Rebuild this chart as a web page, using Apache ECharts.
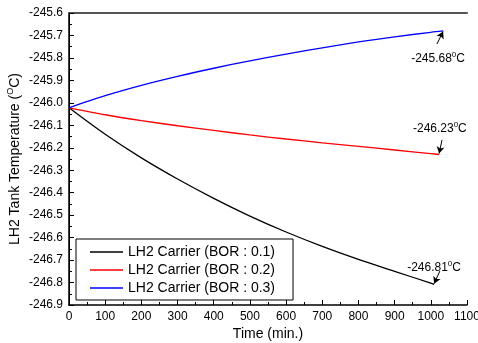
<!DOCTYPE html>
<html><head><meta charset="utf-8">
<script src="https://cdn.jsdelivr.net/npm/echarts@6/dist/echarts.min.js"></script>
<style>html,body{margin:0;padding:0;background:#fff}#c{width:478px;height:343px}</style>
</head><body><div id="c"></div>
<script>
// Time (min.)
const timesBlack = [0,100,200,300,400,500,600,700,800,900,1000,1009];
const tempBlack  = [-246.022,-246.140,-246.245,-246.339,-246.425,-246.504,-246.575,-246.639,-246.697,-246.750,-246.803,-246.808];
const timesRed   = [0,100,200,300,400,500,600,700,800,900,1000,1023];
const tempRed    = [-246.022,-246.053,-246.079,-246.102,-246.123,-246.143,-246.161,-246.178,-246.194,-246.210,-246.226,-246.230];
const timesBlue  = [0,100,200,300,400,500,600,700,800,900,1000,1034];
const tempBlue   = [-246.022,-245.968,-245.922,-245.882,-245.846,-245.813,-245.783,-245.755,-245.729,-245.706,-245.686,-245.680];
const seriesNames = ['LH2 Carrier (BOR : 0.1)','LH2 Carrier (BOR : 0.2)','LH2 Carrier (BOR : 0.3)'];
const endLabels = ['-246.81','-246.23','-245.68'];
// annotation anchors in data coordinates: [labelT, labelV, arrowFromT, arrowFromV, arrowToT, arrowToV]
const annBlack = [1009,-246.731, 1025,-246.749, 1009,-246.805];
const annRed   = [1025,-246.112, 1031,-246.165, 1023,-246.226];
const annBlue  = [1020,-245.800, 1017,-245.738, 1034,-245.682];

const colors = ['#000000','#ff0000','#0000ff'];
const FONT = 'Liberation Sans, Arial, sans-serif';

function pairs(t, v){ return t.map((x,i)=>[x, v[i]]); }

function mkSeries(i, t, v, ann){
  return {
    name: seriesNames[i], type:'line', data: pairs(t,v), smooth:0.3, showSymbol:false,
    lineStyle:{color:colors[i], width:1.3}, itemStyle:{color:colors[i]},
    markLine:{
      silent:true, animation:false,
      symbol:['none','arrow'], symbolSize:[6,7],
      lineStyle:{color:'#000', width:1, type:'solid'},
      label:{show:false},
      data:[[{coord:[ann[2],ann[3]]},{coord:[ann[4],ann[5]]}]]
    },
    markPoint:{
      silent:true, animation:false, symbol:'circle', symbolSize:0,
      label:{show:true, position:'inside', fontFamily:FONT, color:'#000',
        formatter: '{a|' + endLabels[i] + '}{s|0}{a|C}',
        rich:{a:{fontSize:12, fontFamily:FONT, color:'#000', lineHeight:14, verticalAlign:'bottom'},
              s:{fontSize:8, fontFamily:FONT, color:'#000', lineHeight:14, verticalAlign:'top'}}},
      data:[{coord:[ann[0],ann[1]], value:0}]
    }
  };
}

const chart = echarts.init(document.getElementById('c'), null, {renderer:'canvas'});
chart.setOption({
  animation:false,
  backgroundColor:'#fff',
  grid:{left:69, right:11, top:13, bottom:38, show:false, containLabel:false, outerBoundsMode:'none'},
  legend:{
    orient:'vertical', left:76, top:239,
    data: seriesNames,
    icon:'rect', itemWidth:33, itemHeight:1.5, itemGap:4,
    backgroundColor:'#fff', borderColor:'#000', borderWidth:1, borderRadius:0,
    padding:[6,18,5,14],
    textStyle:{fontSize:14, fontFamily:FONT, color:'#000', lineHeight:14}
  },
  xAxis:[{
    type:'value', min:0, max:1100, interval:100, position:'bottom',
    name:'Time (min.)', nameLocation:'middle', nameGap:22, nameMoveOverlap:false,
    nameTextStyle:{fontSize:14, fontFamily:FONT, color:'#000'},
    axisLine:{show:true, lineStyle:{color:'#000', width:1.5}},
    axisTick:{show:true, inside:true, length:5, lineStyle:{color:'#000'}},
    minorTick:{show:true, splitNumber:2, length:3, lineStyle:{color:'#000'}},
    axisLabel:{fontSize:12, fontFamily:FONT, color:'#000', margin:6, hideOverlap:false, formatter:v=>String(v)},
    splitLine:{show:false}
  },{
    type:'value', min:0, max:1100, position:'top',
    axisLine:{show:true, lineStyle:{color:'#555', width:2}},
    axisTick:{show:false}, axisLabel:{show:false}, splitLine:{show:false}
  }],
  yAxis:[{
    type:'value', min:-246.9, max:-245.6, interval:0.1, position:'left',
    name:'{n|LH2 Tank Temperature (}{s|O}{n|C)}', nameLocation:'middle', nameGap:47, nameRotate:90, nameMoveOverlap:false,
    nameTextStyle:{fontSize:14, fontFamily:FONT, color:'#000',
      rich:{n:{fontSize:14, fontFamily:FONT, color:'#000', lineHeight:16, verticalAlign:'bottom'},
            s:{fontSize:9, fontFamily:FONT, color:'#000', lineHeight:16, verticalAlign:'top'}}},
    axisLine:{show:true, lineStyle:{color:'#000', width:1.5}},
    axisTick:{show:true, inside:true, length:5, lineStyle:{color:'#000'}},
    minorTick:{show:true, splitNumber:2, length:3, lineStyle:{color:'#000'}},
    axisLabel:{fontSize:12, fontFamily:FONT, color:'#000', margin:6, formatter:v=>v.toFixed(1)},
    splitLine:{show:false}
  },{
    type:'value', min:-246.9, max:-245.6, position:'right',
    axisLine:{show:true, lineStyle:{color:'#000', width:1}},
    axisTick:{show:false}, axisLabel:{show:false}, splitLine:{show:false}
  }],
  series:[
    mkSeries(0, timesBlack, tempBlack, annBlack),
    mkSeries(1, timesRed, tempRed, annRed),
    mkSeries(2, timesBlue, tempBlue, annBlue)
  ]
});
</script></body></html>
